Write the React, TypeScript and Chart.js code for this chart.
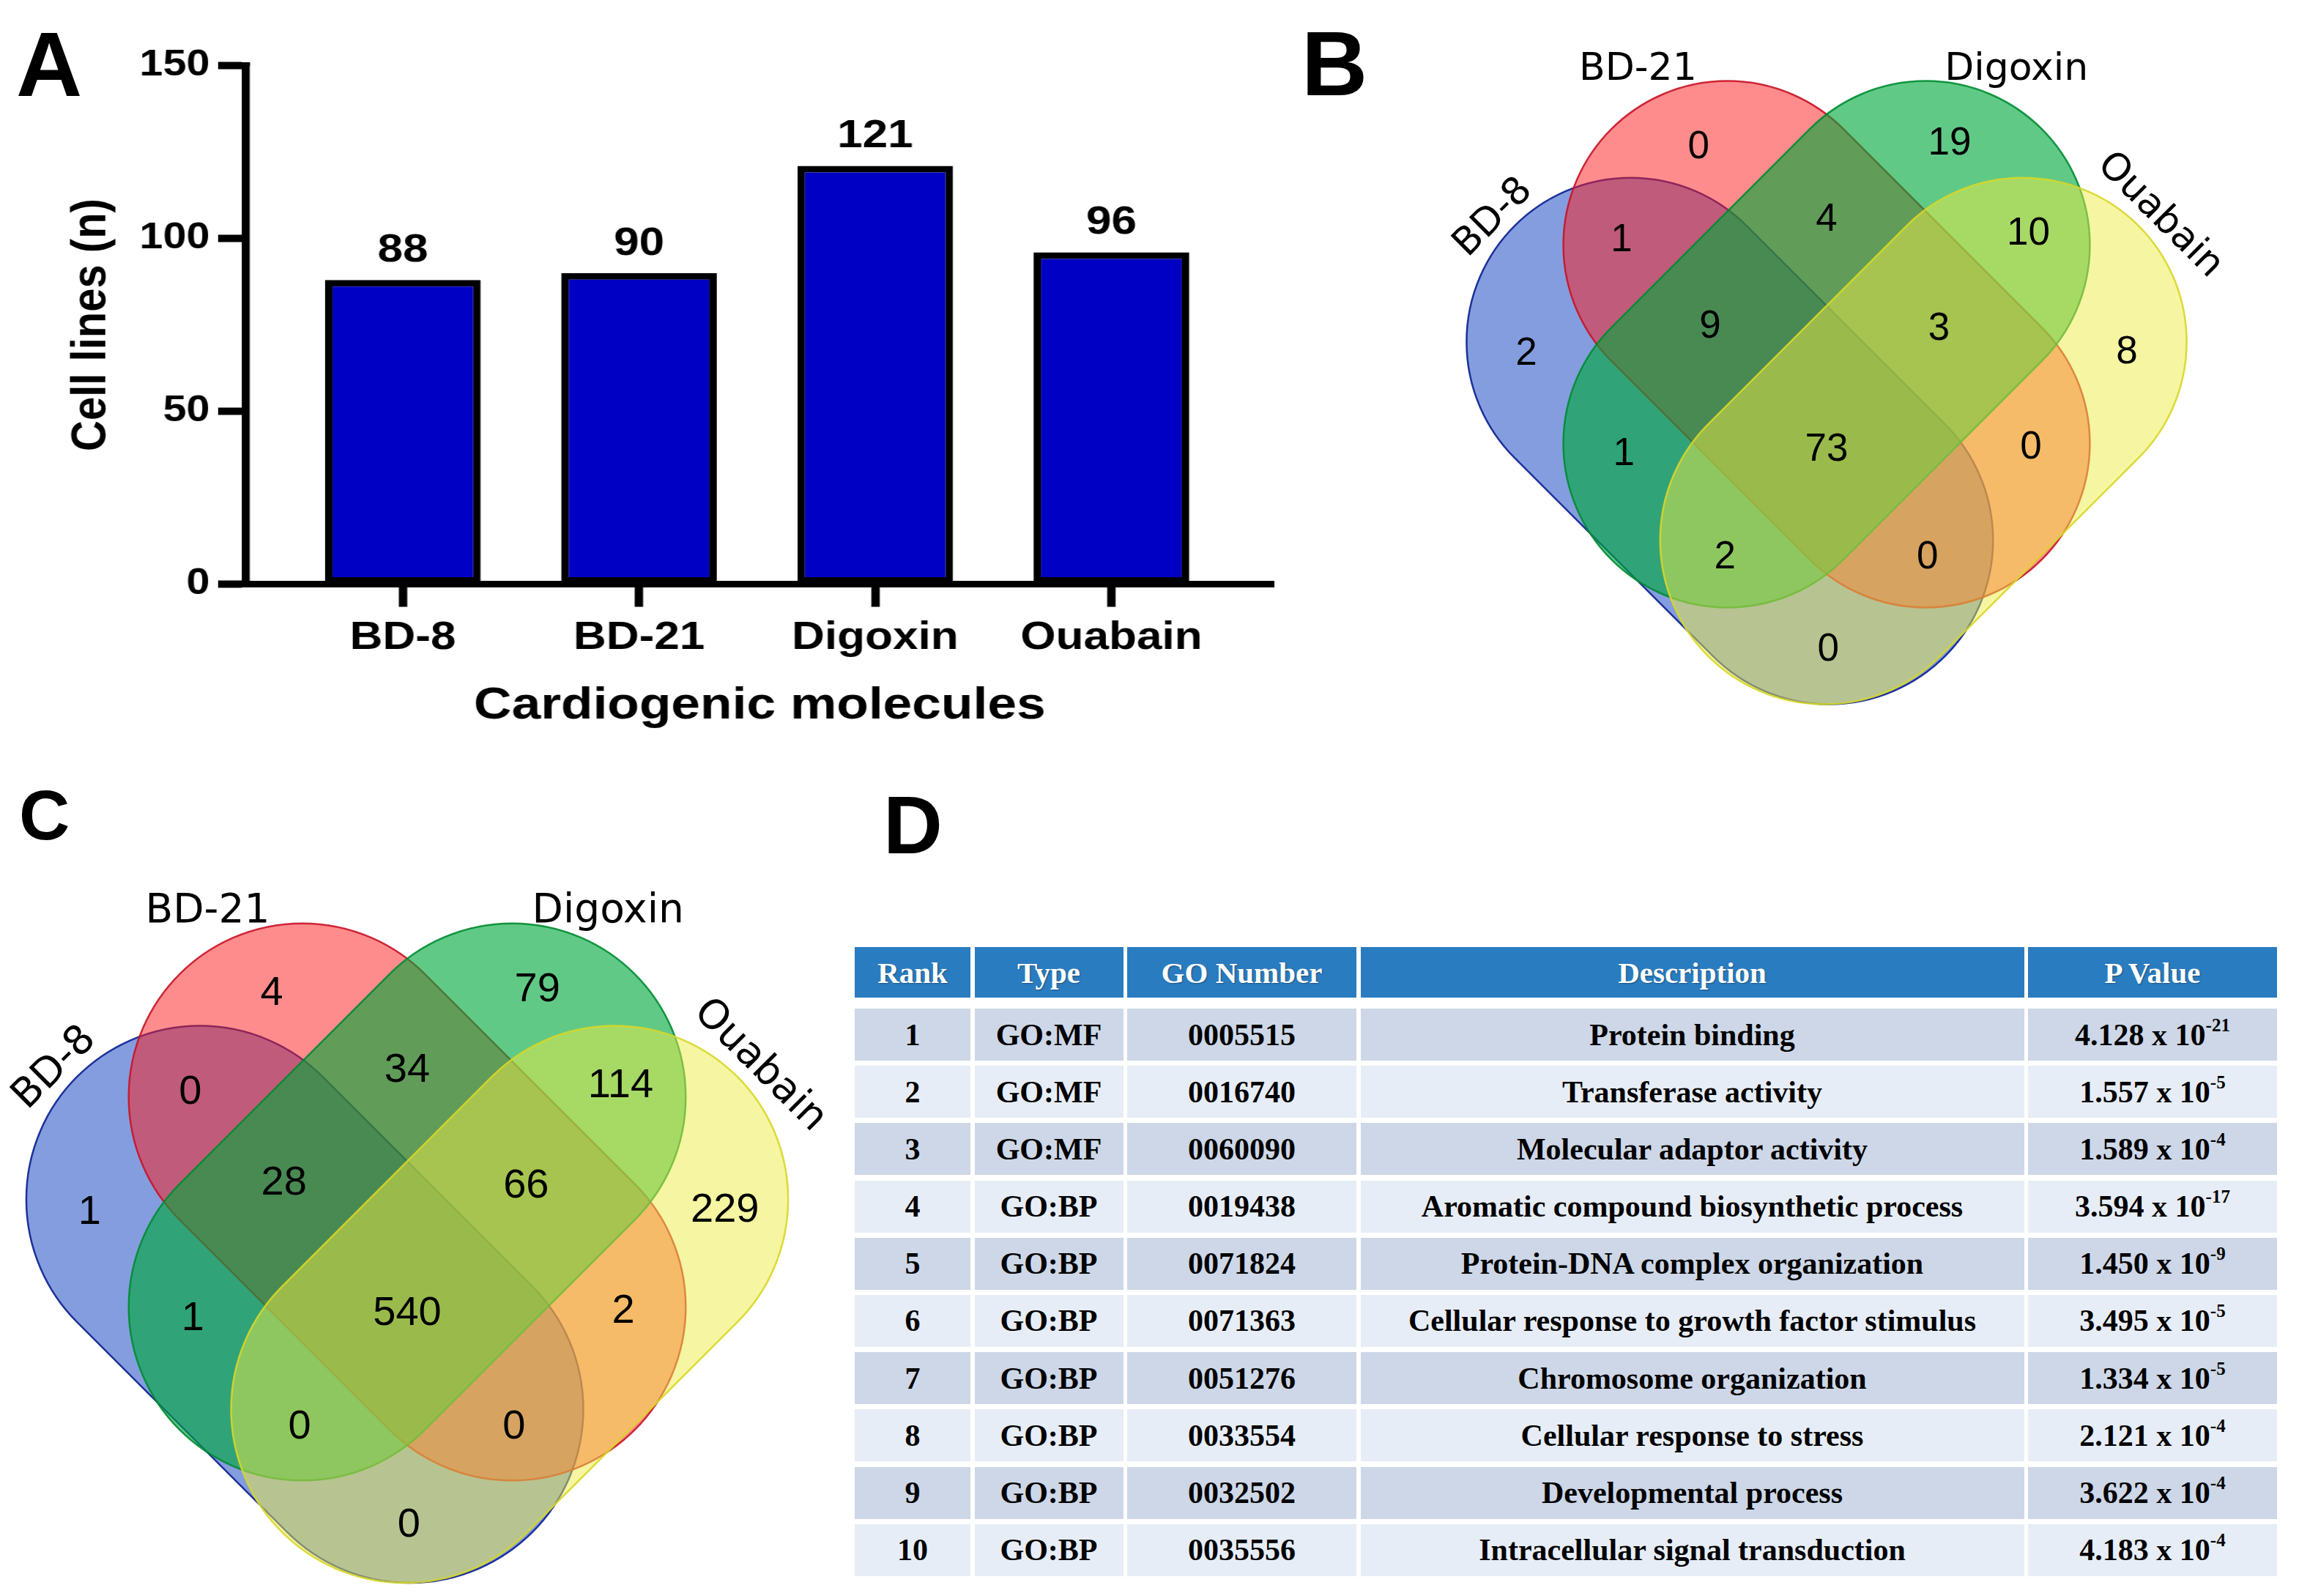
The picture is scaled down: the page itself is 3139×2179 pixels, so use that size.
import React, { useEffect, useRef } from 'react';
import { Chart, registerables } from 'chart.js';

Chart.register(...registerables);

// ---------------- Panel A data ----------------
const MOLECULES = ['BD-8', 'BD-21', 'Digoxin', 'Ouabain'];
const CELL_LINES = [88, 90, 121, 96];
const Y_MIN = 0;
const Y_MAX = 150;
const Y_STEP = 50;

// ---------------- Venn data ----------------
const SET_NAMES = ['BD-8', 'BD-21', 'Digoxin', 'Ouabain'];
// regions: R, G, BR, RG, GY, B, BRG, RGY, Y, BG, BRGY, RY, BGY, BRY, BY
const VENN_B_COUNTS = [0, 19, 1, 4, 10, 2, 9, 3, 8, 1, 73, 0, 2, 0, 0];
const VENN_C_COUNTS = [4, 79, 0, 34, 114, 1, 28, 66, 229, 1, 540, 2, 0, 0, 0];

// ---------------- Table data ----------------
const GO_HEADERS = ['Rank', 'Type', 'GO Number', 'Description', 'P Value'];
const GO_RANK = ['1', '2', '3', '4', '5', '6', '7', '8', '9', '10'];
const GO_TYPE = ['GO:MF', 'GO:MF', 'GO:MF', 'GO:BP', 'GO:BP', 'GO:BP', 'GO:BP', 'GO:BP', 'GO:BP', 'GO:BP'];
const GO_NUMBER = ['0005515', '0016740', '0060090', '0019438', '0071824', '0071363', '0051276', '0033554', '0032502', '0035556'];
const GO_DESC = [
  'Protein binding',
  'Transferase activity',
  'Molecular adaptor activity',
  'Aromatic compound biosynthetic process',
  'Protein-DNA complex organization',
  'Cellular response to growth factor stimulus',
  'Chromosome organization',
  'Cellular response to stress',
  'Developmental process',
  'Intracellular signal transduction',
];
const P_MANTISSA = ['4.128', '1.557', '1.589', '3.594', '1.450', '3.495', '1.334', '2.121', '3.622', '4.183'];
const P_EXPONENT = ['-21', '-5', '-4', '-17', '-9', '-5', '-5', '-4', '-4', '-4'];

// ---------------- Layout / style constants ----------------
const A_STRETCH = 1.15;
const A_W = 1565;
const A_H = 1010;
const A_LEFT = 292;
const A_RIGHT = 1512;
const A_TOP = 89.5;
const A_BOTTOM = 797.5;
const BAR_FILL = '#0000c4';
const SANS = '"Liberation Sans", Arial, sans-serif';

// Venn geometry in units of capsule radius (screen y downward)
const CAP_HALF_LEN = 0.855;
const SET_OFF = 0.59;
const SET_CENTER: [number, number][] = [
  [-SET_OFF, SET_OFF],
  [0, 0],
  [0, 0],
  [SET_OFF, SET_OFF],
];
const SET_ANGLE = [Math.PI / 4, Math.PI / 4, -Math.PI / 4, -Math.PI / 4];
const SET_FILL = ['rgba(10,60,190,0.5)', 'rgba(255,25,25,0.5)', 'rgba(0,168,60,0.62)', 'rgba(235,235,70,0.5)'];
const SET_LINE = ['rgba(20,40,150,0.95)', 'rgba(200,20,40,0.9)', 'rgba(0,140,50,0.9)', 'rgba(215,215,40,0.9)'];
const LABEL_POS: [number, number][] = [
  [-2.03, -0.77],
  [-1.15, -1.61],
  [1.157, -1.613],
  [2.03, -0.785],
];
const LABEL_ROT = [-Math.PI / 4, 0, 0, Math.PI / 4];
const REGION_POS: [number, number][] = [
  [-0.78, -1.22],
  [0.75, -1.24],
  [-1.25, -0.65],
  [0, -0.775],
  [1.23, -0.69],
  [-1.83, 0.04],
  [-0.71, -0.125],
  [0.685, -0.11],
  [1.83, 0.03],
  [-1.235, 0.653],
  [0, 0.625],
  [1.245, 0.613],
  [-0.62, 1.28],
  [0.615, 1.28],
  [0.01, 1.845],
];

function capsulePath(ctx: CanvasRenderingContext2D, cx: number, cy: number, L: number, r: number, angle: number) {
  ctx.save();
  ctx.translate(cx, cy);
  ctx.rotate(angle);
  ctx.beginPath();
  ctx.moveTo(-L, -r);
  ctx.lineTo(L, -r);
  ctx.arc(L, 0, r, -Math.PI / 2, Math.PI / 2);
  ctx.lineTo(-L, r);
  ctx.arc(-L, 0, r, Math.PI / 2, (3 * Math.PI) / 2);
  ctx.closePath();
  ctx.restore();
}

function BarPanel() {
  const ref = useRef<HTMLCanvasElement>(null);
  useEffect(() => {
    const canvas = ref.current!;
    const spacing = 280.4;
    const firstCenter = 478.3;
    const xMin = 1 - (firstCenter - A_LEFT) / spacing;
    const xMax = 1 + (A_RIGHT - firstCenter) / spacing;
    const extras = {
      id: 'barExtras',
      afterDatasetsDraw(chart: any) {
        const { ctx } = chart;
        const meta = chart.getDatasetMeta(0);
        ctx.save();
        ctx.font = `bold 54px ${SANS}`;
        ctx.fillStyle = '#000';
        ctx.textAlign = 'center';
        ctx.textBaseline = 'alphabetic';
        meta.data.forEach((el: any, i: number) => {
          ctx.fillText(String(CELL_LINES[i]), el.x, el.y - 25);
        });
        ctx.restore();
      },
      afterDraw(chart: any) {
        const { ctx, chartArea } = chart;
        ctx.save();
        ctx.fillStyle = '#000';
        ctx.fillRect(chartArea.left - 33, chartArea.bottom - 4.5, 33, 9);
        ctx.fillRect(chartArea.left - 4.75, chartArea.top - 4.5, 9.5, 5);
        ctx.restore();
      },
    };
    const chart = new Chart(canvas, {
      type: 'bar',
      data: {
        datasets: [
          {
            data: CELL_LINES.map((v, i) => ({ x: i + 1, y: v })),
            backgroundColor: BAR_FILL,
            borderColor: '#000',
            borderWidth: 9,
            borderSkipped: false,
            barPercentage: 0.659,
            categoryPercentage: 1,
          } as any,
        ],
      },
      options: {
        animation: false,
        responsive: false,
        devicePixelRatio: 1,
        events: [],
        layout: { padding: { top: A_TOP, right: A_W - A_RIGHT, left: 0, bottom: 0 } },
        plugins: { legend: { display: false }, tooltip: { enabled: false } },
        scales: {
          x: {
            type: 'linear',
            min: xMin,
            max: xMax,
            offset: false,
            afterBuildTicks: (s: any) => {
              s.ticks = MOLECULES.map((_, i) => ({ value: i + 1 }));
            },
            afterFit: (s: any) => {
              s.height = A_H - A_BOTTOM;
            },
            ticks: {
              callback: (v: any) => MOLECULES[Math.round(v) - 1],
              font: { family: SANS, weight: 'bold', size: 54 },
              color: '#000',
              padding: 10,
              maxRotation: 0,
              autoSkip: false,
            },
            grid: { offset: false, drawOnChartArea: false, drawTicks: true, tickLength: 31, tickWidth: 10, tickColor: '#000' },
            border: { display: true, width: 9, color: '#000' },
            title: {
              display: true,
              text: 'Cardiogenic molecules',
              font: { family: SANS, weight: 'bold', size: 62 },
              color: '#000',
              padding: { top: 0, bottom: 9 },
            },
          } as any,
          y: {
            type: 'linear',
            min: Y_MIN,
            max: Y_MAX,
            afterFit: (s: any) => {
              s.width = A_LEFT;
            },
            ticks: {
              stepSize: Y_STEP,
              font: { family: SANS, weight: 'bold', size: 50 },
              color: '#000',
              padding: 10,
            },
            grid: { drawOnChartArea: false, drawTicks: true, tickLength: 33, tickWidth: 10, tickColor: '#000' },
            border: { display: true, width: 9.5, color: '#000' },
            title: {
              display: true,
              text: 'Cell lines (n)',
              font: { family: SANS, weight: 'bold', size: 58 },
              color: '#000',
              padding: { top: 74, bottom: 0 },
            },
          } as any,
        },
      },
      plugins: [extras],
    });
    return () => chart.destroy();
  }, []);
  return (
    <canvas
      ref={ref}
      width={A_W}
      height={A_H}
      style={{
        position: 'absolute',
        left: 0,
        top: 0,
        width: A_W,
        height: A_H,
        transform: `scaleX(${A_STRETCH})`,
        transformOrigin: '0 0',
      }}
    />
  );
}

type VennProps = {
  counts: number[];
  left: number;
  top: number;
  w: number;
  h: number;
  cx: number;
  cy: number;
  r: number;
  numSize: number;
  labelSize: number;
};

function VennPanel({ counts, left, top, w, h, cx, cy, r, numSize, labelSize }: VennProps) {
  const ref = useRef<HTMLCanvasElement>(null);
  useEffect(() => {
    const canvas = ref.current!;
    const xMin = -cx / r;
    const xMax = (w - cx) / r;
    const yMin = -cy / r;
    const yMax = (h - cy) / r;
    const venn = {
      id: 'venn',
      beforeDatasetsDraw(chart: any) {
        const { ctx } = chart;
        const xs = chart.scales.x;
        const ys = chart.scales.y;
        const unit = xs.getPixelForValue(1) - xs.getPixelForValue(0);
        ctx.save();
        SET_NAMES.forEach((_, i) => {
          const [ux, uy] = SET_CENTER[i];
          capsulePath(ctx, xs.getPixelForValue(ux), ys.getPixelForValue(uy), CAP_HALF_LEN * unit, unit, SET_ANGLE[i]);
          ctx.fillStyle = SET_FILL[i];
          ctx.fill();
          ctx.lineWidth = 2.5;
          ctx.strokeStyle = SET_LINE[i];
          ctx.stroke();
        });
        ctx.restore();
      },
      afterDatasetsDraw(chart: any) {
        const { ctx } = chart;
        const xs = chart.scales.x;
        const ys = chart.scales.y;
        const meta = chart.getDatasetMeta(0);
        ctx.save();
        ctx.fillStyle = '#000';
        ctx.textAlign = 'center';
        ctx.textBaseline = 'alphabetic';
        ctx.font = `${numSize}px ${SANS}`;
        meta.data.forEach((pt: any, i: number) => {
          ctx.fillText(String(counts[i]), pt.x, pt.y + 0.358 * numSize);
        });
        ctx.font = `${labelSize}px "DejaVu Sans", sans-serif`;
        SET_NAMES.forEach((name, i) => {
          const [lx, ly] = LABEL_POS[i];
          ctx.save();
          ctx.translate(xs.getPixelForValue(lx), ys.getPixelForValue(ly));
          ctx.rotate(LABEL_ROT[i]);
          ctx.textBaseline = LABEL_ROT[i] === 0 ? 'alphabetic' : 'middle';
          ctx.fillText(name, 0, 0);
          ctx.restore();
        });
        ctx.restore();
      },
    };
    const chart = new Chart(canvas, {
      type: 'scatter',
      data: {
        datasets: [
          {
            data: REGION_POS.map(([x, y]) => ({ x, y })),
            pointRadius: 0,
            pointHoverRadius: 0,
          },
        ],
      },
      options: {
        animation: false,
        responsive: false,
        devicePixelRatio: 1,
        events: [],
        layout: { padding: 0 },
        plugins: { legend: { display: false }, tooltip: { enabled: false } },
        scales: {
          x: { type: 'linear', display: false, min: xMin, max: xMax },
          y: { type: 'linear', display: false, min: yMin, max: yMax, reverse: true },
        },
      },
      plugins: [venn],
    });
    return () => chart.destroy();
  }, []);
  return (
    <canvas ref={ref} width={w} height={h} style={{ position: 'absolute', left, top, width: w, height: h }} />
  );
}

const COL_W = [158, 203, 313, 906, 340];
const COL_GAP = 5.5;
const ROW_H = 71;
const ROW_PITCH = 78.2;
const HEAD_H = 69;
const SERIF = '"Liberation Serif", "Times New Roman", serif';

function GoTable() {
  const cols = COL_W.map((w) => `${w}px`).join(' ');
  const cell = (bg: string, color: string, content: React.ReactNode, key: string) => (
    <div
      key={key}
      style={{
        background: bg,
        color,
        display: 'flex',
        alignItems: 'center',
        justifyContent: 'center',
        whiteSpace: 'nowrap',
      }}
    >
      {content}
    </div>
  );
  return (
    <div
      style={{
        position: 'absolute',
        left: 1167,
        top: 1293,
        fontFamily: SERIF,
        fontWeight: 'bold',
        fontSize: 42,
      }}
    >
      <div style={{ display: 'grid', gridTemplateColumns: cols, columnGap: COL_GAP, height: HEAD_H }}>
        {GO_HEADERS.map((h) => (
          <div
            key={h}
            style={{
              background: '#2a7cc0',
              color: '#fff',
              display: 'flex',
              alignItems: 'center',
              justifyContent: 'center',
              textShadow: '1px 1px 2px rgba(0,0,0,0.35)',
              fontSize: 41,
            }}
          >
            {h}
          </div>
        ))}
      </div>
      <div
        style={{
          display: 'grid',
          gridTemplateColumns: cols,
          columnGap: COL_GAP,
          rowGap: ROW_PITCH - ROW_H,
          gridAutoRows: `${ROW_H}px`,
          marginTop: 1377 - 1293 - HEAD_H,
        }}
      >
        {GO_RANK.map((rank, i) => {
          const bg = i % 2 === 0 ? '#cdd7e7' : '#e7edf6';
          return [
            cell(bg, '#000', rank, `r${i}`),
            cell(bg, '#000', GO_TYPE[i], `t${i}`),
            cell(bg, '#000', GO_NUMBER[i], `n${i}`),
            cell(bg, '#000', GO_DESC[i], `d${i}`),
            cell(
              bg,
              '#000',
              <span>
                {P_MANTISSA[i]} x 10
                <sup style={{ fontSize: 25, verticalAlign: 'top', position: 'relative', top: -3 }}>{P_EXPONENT[i]}</sup>
              </span>,
              `p${i}`
            ),
          ];
        })}
      </div>
    </div>
  );
}

function Letter({ ch, left, baseline, size }: { ch: string; left: number; baseline: number; size: number }) {
  return (
    <div
      style={{
        position: 'absolute',
        left,
        top: baseline - 0.8465 * size,
        fontFamily: SANS,
        fontWeight: 'bold',
        fontSize: size,
        lineHeight: 1,
        color: '#000',
      }}
    >
      {ch}
    </div>
  );
}

export default function App() {
  useEffect(() => {
    document.body.style.margin = '0';
    document.body.style.overflow = 'hidden';
  }, []);
  return (
    <div
      style={{
        position: 'absolute',
        left: 0,
        top: 0,
        width: 3139,
        height: 2179,
        background: '#fff',
        overflow: 'hidden',
      }}
    >
      <BarPanel />
      <VennPanel counts={VENN_B_COUNTS} left={1960} top={0} w={1179} h={1010} cx={534} cy={470} r={224} numSize={53} labelSize={52} />
      <VennPanel counts={VENN_C_COUNTS} left={0} top={1150} w={1150} h={1029} cx={556} cy={491} r={237} numSize={56} labelSize={55} />
      <GoTable />
      <Letter ch="A" left={22} baseline={131} size={125} />
      <Letter ch="B" left={1777} baseline={130} size={125} />
      <Letter ch="C" left={26} baseline={1146} size={96} />
      <Letter ch="D" left={1206} baseline={1166} size={112} />
    </div>
  );
}
